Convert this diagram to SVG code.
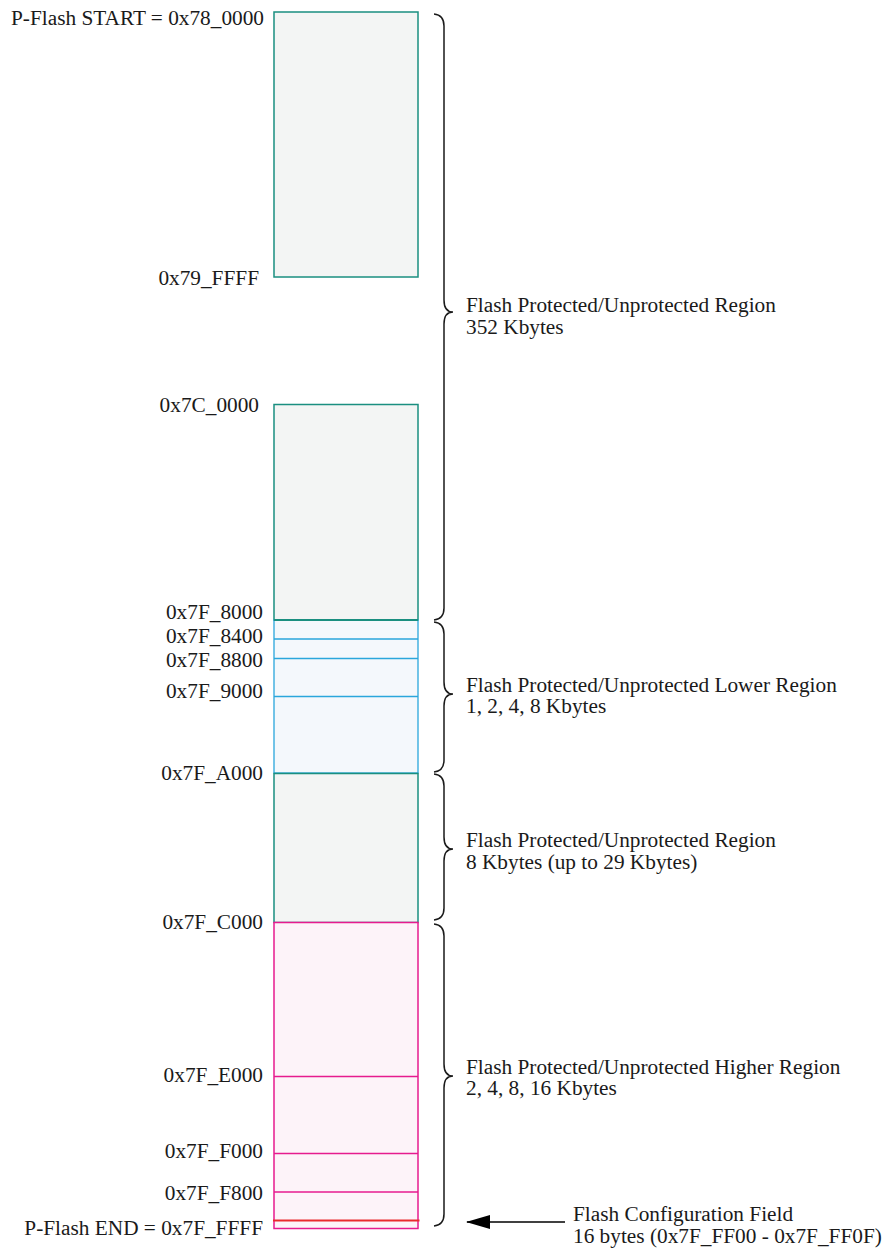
<svg xmlns="http://www.w3.org/2000/svg" width="886" height="1249" viewBox="0 0 886 1249">
<defs>
<style>
text{font-family:"Liberation Serif","Times New Roman",serif;font-size:21.3px;fill:#1a1a1a}
.addr{text-anchor:end}
.teal{fill:#f3f5f4;stroke:#1a8f80;stroke-width:1.5}
.blue{fill:#f4f8fc;stroke:#2aa6dc;stroke-width:1.3}
.pink{fill:#fdf3f9;stroke:#e61b8f;stroke-width:1.5}
.bl{stroke:#2aa6dc;stroke-width:1.3}
.pl{stroke:#e61b8f;stroke-width:1.5}
.brace{fill:none;stroke:#1a1a1a;stroke-width:1.5}
</style>
<marker id="ah" markerWidth="24" markerHeight="16" refX="23" refY="7" orient="auto" markerUnits="userSpaceOnUse">
<path d="M24,7 L0,0 L0,14 Z" fill="#000"/>
</marker>
</defs>
<rect width="886" height="1249" fill="#fff"/>

<g id="block-78">
<rect class="teal" x="274" y="12" width="144" height="265"/>
<text class="addr" x="264" y="25">P-Flash START = 0x78_0000</text>
<text class="addr" x="259" y="285">0x79_FFFF</text>
</g>

<g id="block-7C">
<rect class="teal" x="274" y="404.5" width="144" height="215.5"/>
<text class="addr" x="259" y="412">0x7C_0000</text>
</g>

<g id="block-lower">
<rect class="blue" x="274" y="620" width="144" height="153"/>
<line class="bl" x1="274" y1="639" x2="418" y2="639"/>
<line class="bl" x1="274" y1="658.5" x2="418" y2="658.5"/>
<line class="bl" x1="274" y1="696.5" x2="418" y2="696.5"/>
<line x1="274" y1="620" x2="418" y2="620" stroke="#1a8f80" stroke-width="1.8"/>
<text class="addr" x="263" y="619">0x7F_8000</text>
<text class="addr" x="263" y="643">0x7F_8400</text>
<text class="addr" x="263" y="667">0x7F_8800</text>
<text class="addr" x="263" y="698">0x7F_9000</text>
</g>

<g id="block-A000">
<rect class="teal" x="274" y="773.5" width="144" height="149"/>
<text class="addr" x="263" y="780">0x7F_A000</text>
</g>

<g id="block-higher">
<rect class="pink" x="274" y="922.5" width="144" height="306"/>
<line class="pl" x1="274" y1="1076.5" x2="418" y2="1076.5"/>
<line class="pl" x1="274" y1="1153.5" x2="418" y2="1153.5"/>
<line class="pl" x1="274" y1="1192" x2="418" y2="1192"/>
<line x1="273" y1="1220.5" x2="419.5" y2="1220.5" stroke="#ea2a2e" stroke-width="2.2"/>
<text class="addr" x="263" y="929">0x7F_C000</text>
<text class="addr" x="263" y="1082">0x7F_E000</text>
<text class="addr" x="263" y="1158">0x7F_F000</text>
<text class="addr" x="263" y="1200">0x7F_F800</text>
<text class="addr" x="263" y="1235">P-Flash END = 0x7F_FFFF</text>
</g>

<g id="region-352">
<path class="brace" d="M434,14 Q444,15 444,26 L444,300 Q444,312 453,312 Q444,312 444,324 L444,608 Q444,619 434,620"/>
<text x="466" y="312">Flash Protected/Unprotected Region</text>
<text x="466" y="334">352 Kbytes</text>
</g>

<g id="region-lower">
<path class="brace" d="M434,622 Q444,623 444,634 L444,682 Q444,694 453,694 Q444,694 444,706 L444,760 Q444,771 434,772"/>
<text x="466" y="692">Flash Protected/Unprotected Lower Region</text>
<text x="466" y="713">1, 2, 4, 8 Kbytes</text>
</g>

<g id="region-8k">
<path class="brace" d="M434,774 Q444,775 444,786 L444,837 Q444,849 453,849 Q444,849 444,861 L444,908 Q444,919 434,920"/>
<text x="466" y="847">Flash Protected/Unprotected Region</text>
<text x="466" y="869">8 Kbytes (up to 29 Kbytes)</text>
</g>

<g id="region-higher">
<path class="brace" d="M434,924 Q444,925 444,936 L444,1064 Q444,1076 453,1076 Q444,1076 444,1088 L444,1214 Q444,1225 434,1226"/>
<text x="466" y="1074">Flash Protected/Unprotected Higher Region</text>
<text x="466" y="1095">2, 4, 8, 16 Kbytes</text>
</g>

<g id="config-field">
<text x="573" y="1221">Flash Configuration Field</text>
<text x="573" y="1243">16 bytes (0x7F_FF00 - 0x7F_FF0F)</text>
</g>

<g id="connectors">
<line x1="565" y1="1222" x2="467" y2="1222" stroke="#000" stroke-width="1.5" marker-end="url(#ah)"/>
</g>
</svg>
